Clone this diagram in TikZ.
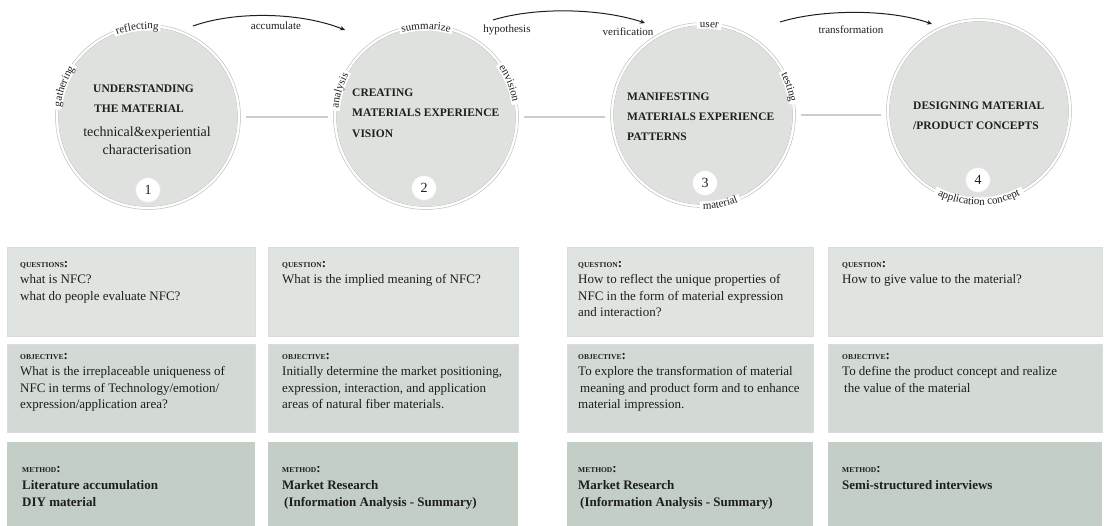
\documentclass[tikz,border=0pt]{standalone}
\usepackage{fontspec}
\setmainfont{Liberation Serif}
\usetikzlibrary{decorations.text,arrows.meta,calc}
\definecolor{circfill}{RGB}{222,225,221}
\definecolor{ringline}{RGB}{188,191,188}
\definecolor{rowA}{RGB}{224,228,224}
\definecolor{rowB}{RGB}{211,218,213}
\definecolor{rowC}{RGB}{194,206,198}
\definecolor{linkgrey}{RGB}{204,204,204}
\definecolor{ink}{RGB}{30,30,30}
\newcommand\myarcfont{\fontsize{11}{12}\selectfont}
\newcommand\hd[1]{{\fontsize{7.5}{9}\selectfont\bfseries #1}{\bfseries :}}
\newcommand\cwlabel[4]{%
  \draw[white, line width=9pt] ($(#1)+(#2+#4:91pt)$) arc[start angle=#2+#4, end angle=#2-#4, radius=91pt];
  \path[decorate, decoration={text along path, text={|\myarcfont|#3}, text align=center, text color=ink}]
    ($(#1)+(#2+45:88pt)$) arc[start angle=#2+45, end angle=#2-45, radius=88pt];
}
\newcommand\ccwlabel[4]{%
  \draw[white, line width=9pt] ($(#1)+(#2-#4:91pt)$) arc[start angle=#2-#4, end angle=#2+#4, radius=91pt];
  \path[decorate, decoration={text along path, text={|\myarcfont|#3}, text align=center, text color=ink}]
    ($(#1)+(#2-50:94pt)$) arc[start angle=#2-50, end angle=#2+50, radius=94pt];
}
\begin{document}
\begin{tikzpicture}[x=1pt,y=1pt,
  stage/.style={circle, fill=circfill, minimum size=178pt, inner sep=0pt},
  ttl/.style={font=\bfseries\fontsize{11.5}{13}\selectfont, text=ink, inner sep=0pt, anchor=west},
  subt/.style={font=\fontsize{14}{16}\selectfont, text=ink, inner sep=0pt},
  numc/.style={circle, fill=white, draw=black!10, line width=0.6pt, minimum size=25pt, inner sep=0pt, font=\fontsize{14}{14}\selectfont, text=ink},
  link/.style={draw=linkgrey, line width=2.4pt},
  flow/.style={draw=ink, line width=1pt, -{Stealth[length=5pt,width=4.5pt]}},
  lbl/.style={font=\fontsize{11}{12}\selectfont, text=ink, inner sep=0pt},
  boxA/.style={fill=rowA, draw=black!14, line width=0.7pt, anchor=south west, inner sep=0pt, minimum height=89pt},
  boxB/.style={fill=rowB, draw=black!14, line width=0.7pt, anchor=south west, inner sep=0pt, minimum height=88pt},
  boxC/.style={fill=rowC, anchor=south west, inner sep=0pt, minimum height=85pt},
  txt/.style={anchor=north west, inner sep=0pt, align=left, font=\fontsize{13}{16.5}\selectfont, text=ink},
  mtxt/.style={anchor=north west, inner sep=0pt, align=left, font=\bfseries\fontsize{13}{17}\selectfont, text=ink}
]
\useasboundingbox (0,0) rectangle (1105,525);

% stage circles
\node[stage] (c1) at (148,408) {};
\node[stage] (c2) at (426,408) {};
\node[stage] (c3) at (703,410) {};
\node[stage] (c4) at (979,414) {};
\foreach \c in {c1,c2,c3,c4}{
  \draw[white, line width=3pt] (\c) circle[radius=91pt];
  \draw[ringline, line width=0.5pt] (\c) circle[radius=89.5pt];
  \draw[ringline, line width=0.5pt] (\c) circle[radius=92.5pt];
}

% connectors between circles
\draw[link] ($(c1.east)+(9,0)$) -- ($(c2.west)+(-9,0)$);
\draw[link] ($(c2.east)+(9,0)$) -- ($(c2.east -| c3.west)+(-9,0)$);
\draw[link] ($(c3.east)+(9,0)$) -- ($(c3.east -| c4.west)+(-9,0)$);

% arc labels
\cwlabel{c1}{97}{reflecting}{15}
\cwlabel{c1}{160}{gathering}{15}
\cwlabel{c2}{90}{summarize}{17}
\cwlabel{c2}{163}{analysis}{13}
\cwlabel{c2}{22}{envision}{14}
\cwlabel{c3}{86}{user}{8}
\cwlabel{c3}{18}{testing}{11}
\ccwlabel{c3}{-79}{material}{13}
\ccwlabel{c4}{-90}{application concept}{29}

% circle texts
\node[ttl] (t1a) at (93,436) {UNDERSTANDING};
\node[ttl] (t1b) at (94,416) {THE MATERIAL};
\node[subt] (t1c) at (147,392) {technical\&experiential};
\node[subt] (t1d) at (147,375) {characterisation};

\node[ttl] (t2a) at (352,432) {CREATING};
\node[ttl] (t2b) at (352,412) {MATERIALS EXPERIENCE};
\node[ttl] (t2c) at (352,391) {VISION};

\node[ttl] (t3a) at (627,428) {MANIFESTING};
\node[ttl] (t3b) at (627,408) {MATERIALS EXPERIENCE};
\node[ttl] (t3c) at (627,388) {PATTERNS};

\node[ttl] (t4a) at (913,419) {DESIGNING MATERIAL};
\node[ttl] (t4b) at (913,399) {/PRODUCT CONCEPTS};

% numbers
\node[numc] (n1) at (148,335) {1};
\node[numc] (n2) at (424,337) {2};
\node[numc] (n3) at (705,342) {3};
\node[numc] (n4) at (978,345) {4};

% top arrows
\coordinate (a1s) at (193,499);
\coordinate (a1e) at (345,495);
\coordinate (a2s) at (493,505);
\coordinate (a2e) at (645,502);
\coordinate (a3s) at (780,503);
\coordinate (a3e) at (932,501);
\draw[flow] (a1s) .. controls (235,514) and (300,513) .. (a1e);
\draw[flow] (a2s) .. controls (535,518) and (600,517) .. (a2e);
\draw[flow] (a3s) .. controls (822,516) and (890,516) .. (a3e);
\node[lbl] (l1) at (276,499) {accumulate};
\node[lbl] (l2) at (507,495) {hypothesis};
\node[lbl] (l3) at (628,493) {verification};
\node[lbl] (l4) at (851,495) {transformation};

% row 1: questions
\node[boxA, minimum width=248pt] (q1) at (7,188) {};
\node[boxA, minimum width=250pt] (q2) at (268,188) {};
\node[boxA, minimum width=246pt] (q3) at (567,188) {};
\node[boxA, minimum width=274pt] (q4) at (828,188) {};
\node[txt] (q1t) at (20,264) {\hd{QUESTIONS}\\what is NFC?\\what do people evaluate NFC?};
\node[txt] (q2t) at (282,264) {\hd{QUESTION}\\What is the implied meaning of NFC?};
\node[txt] (q3t) at (578,264) {\hd{QUESTION}\\How to reflect the unique properties of\\NFC in the form of material expression\\and interaction?};
\node[txt] (q4t) at (842,264) {\hd{QUESTION}\\How to give value to the material?};

% row 2: objectives
\node[boxB, minimum width=248pt] (o1) at (7,92) {};
\node[boxB, minimum width=250pt] (o2) at (268,92) {};
\node[boxB, minimum width=246pt] (o3) at (567,92) {};
\node[boxB, minimum width=274pt] (o4) at (828,92) {};
\node[txt] (o1t) at (20,172) {\hd{OBJECTIVE}\\What is the irreplaceable uniqueness of\\NFC in terms of Technology/emotion/\\expression/application area?};
\node[txt] (o2t) at (282,172) {\hd{OBJECTIVE}\\Initially determine the market positioning,\\expression, interaction, and application\\areas of natural fiber materials.};
\node[txt] (o3t) at (578,172) {\hd{OBJECTIVE}\\To explore the transformation of material\\\hspace{2pt}meaning and product form and to enhance\\material impression.};
\node[txt] (o4t) at (842,172) {\hd{OBJECTIVE}\\To define the product concept and realize\\\hspace{2pt}the value of the material};

% row 3: methods
\node[boxC, minimum width=248pt] (m1) at (7,-2) {};
\node[boxC, minimum width=250pt] (m2) at (268,-2) {};
\node[boxC, minimum width=246pt] (m3) at (567,-2) {};
\node[boxC, minimum width=274pt] (m4) at (828,-2) {};
\node[mtxt] (m1t) at (22,59) {\hd{METHOD}\\Literature accumulation\\DIY material};
\node[mtxt] (m2t) at (282,59) {\hd{METHOD}\\Market Research\\\hspace{2pt}(Information Analysis - Summary)};
\node[mtxt] (m3t) at (578,59) {\hd{METHOD}\\Market Research\\\hspace{2pt}(Information Analysis - Summary)};
\node[mtxt] (m4t) at (842,59) {\hd{METHOD}\\Semi-structured interviews};
\end{tikzpicture}
\end{document}
